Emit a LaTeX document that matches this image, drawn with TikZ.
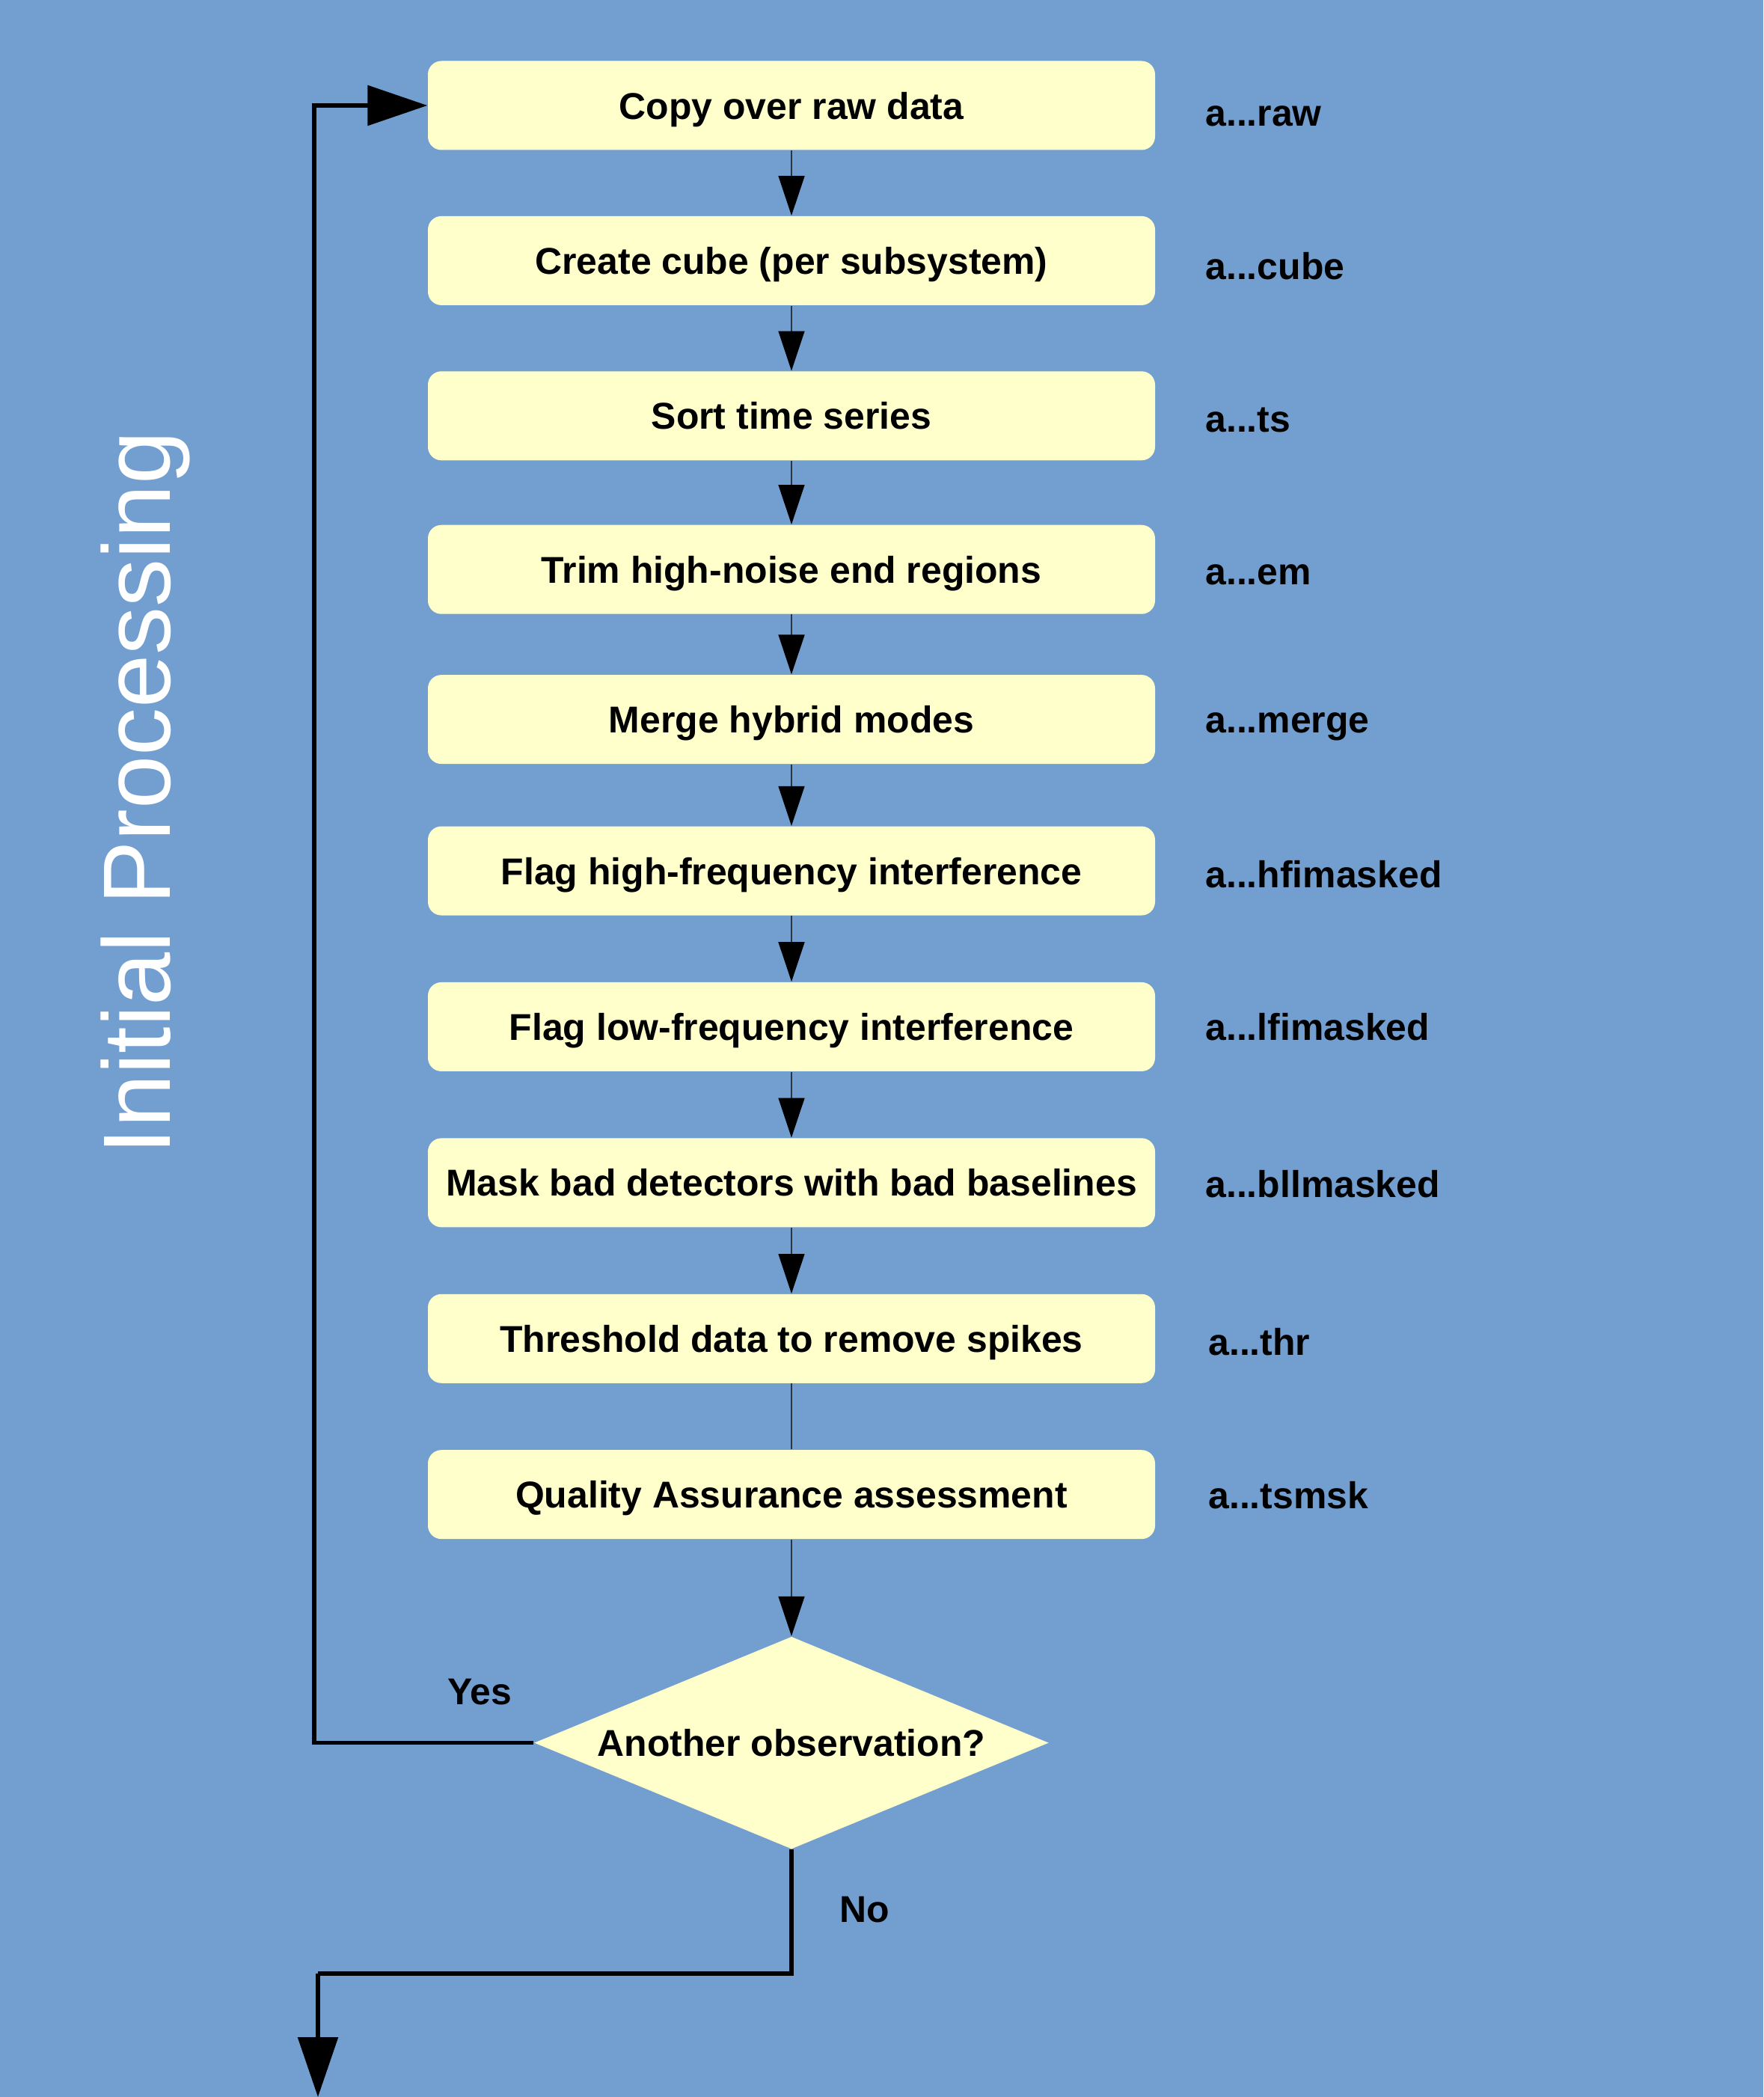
\documentclass[tikz,border=0pt]{standalone}
\usepackage{fontspec}
\setmainfont{Liberation Sans}
\usepackage{xcolor}
\usepackage{tikz}
\usetikzlibrary{positioning,arrows.meta,calc,shapes.geometric}
\definecolor{PIback}{HTML}{729FCF}
\definecolor{PIpale}{HTML}{FFFFCC}
\definecolor{PIline}{HTML}{2B3440}
\newcommand\stepfont{\fontsize{14.2}{17}\selectfont\bfseries}
\newcommand\titlefont{\fontsize{36.4}{40}\selectfont}
\tikzset{
  stepbox/.style={rounded corners=0.18cm, fill=PIpale, minimum width=9.72cm, minimum height=1.19cm, inner sep=0pt, font=\stepfont, text=black, text height=0.4cm, text depth=0.04cm},
  testbox/.style={diamond, fill=PIpale, minimum width=6.88cm, minimum height=2.84cm, aspect=2.42, inner sep=0pt, font=\stepfont, text=black},
  tagtext/.style={font=\stepfont, text=black, anchor=base west, inner sep=0pt},
  flowlabel/.style={font=\stepfont, text=black, inner sep=0pt},
  thinarr/.style={-{Triangle[length=5.3mm, width=3.5mm, color=black]}, line width=0.4pt, draw=PIline},
  thinline/.style={line width=0.4pt, draw=PIline},
  looparr/.style={-{Triangle[length=8mm, width=5.3mm]}, line width=1.6pt, draw=black},
  loopline/.style={line width=1.6pt, draw=black}
}

\begin{document}
\begin{tikzpicture}[node distance=0.88cm]
\fill[PIback] (0,0) rectangle (23.57,-28.03);
\useasboundingbox (0,0) rectangle (23.57,-28.03);

% title
\node[rotate=90, anchor=base, font=\titlefont, text=white] (title) at (2.27,-10.60) {Initial Processing};

% processing steps
\node[stepbox] (raw) at (10.58,-1.41) {Copy over raw data};
\node[stepbox, below=0.87cm of raw] (cube) {Create cube (per subsystem)};
\node[stepbox, below=0.87cm of cube] (ts) {Sort time series};
\node[stepbox, below=0.85cm of ts] (em) {Trim high-noise end regions};
\node[stepbox, below=0.80cm of em] (merge) {Merge hybrid modes};
\node[stepbox, below=0.82cm of merge] (hfi) {Flag high-frequency interference};
\node[stepbox, below=of hfi] (lfi) {Flag low-frequency interference};
\node[stepbox, below=of lfi] (bll) {Mask bad detectors with bad baselines};
\node[stepbox, below=of bll] (thr) {Threshold data to remove spikes};
\node[stepbox, below=of thr] (qa) {Quality Assurance assessment};
\node[testbox, below=1.29cm of qa] (obs) {Another observation?};

% product names
\node[tagtext] (rawtag) at ([xshift=0.66cm, yshift=-0.27cm]raw.east) {a...raw};
\node[tagtext] (cubetag) at ([xshift=0.66cm, yshift=-0.25cm]cube.east) {a...cube};
\node[tagtext] (tstag) at ([xshift=0.66cm, yshift=-0.22cm]ts.east) {a...ts};
\node[tagtext] (emtag) at ([xshift=0.66cm, yshift=-0.20cm]em.east) {a...em};
\node[tagtext] (mergetag) at ([xshift=0.66cm, yshift=-0.18cm]merge.east) {a...merge};
\node[tagtext] (hfitag) at ([xshift=0.66cm, yshift=-0.22cm]hfi.east) {a...hfimasked};
\node[tagtext] (lfitag) at ([xshift=0.66cm, yshift=-0.18cm]lfi.east) {a...lfimasked};
\node[tagtext] (blltag) at ([xshift=0.66cm, yshift=-0.20cm]bll.east) {a...bllmasked};
\node[tagtext] (thrtag) at ([xshift=0.70cm, yshift=-0.22cm]thr.east) {a...thr};
\node[tagtext] (qatag) at ([xshift=0.70cm, yshift=-0.19cm]qa.east) {a...tsmsk};

\draw[thinarr] (raw) -- (cube);
\draw[thinarr] (cube) -- (ts);
\draw[thinarr] (ts) -- (em);
\draw[thinarr] (em) -- (merge);
\draw[thinarr] (merge) -- (hfi);
\draw[thinarr] (hfi) -- (lfi);
\draw[thinarr] (lfi) -- (bll);
\draw[thinarr] (bll) -- (thr);
\draw[thinline] (thr) -- (qa);
\draw[thinarr] (qa) -- (obs);

% yes: back to the top
\coordinate (back) at (4.20,0);
\draw[looparr] (obs.west) -- (obs.west -| back) |- (raw.west);
\node[flowlabel] (yes) at ([xshift=-0.72cm, yshift=0.68cm]obs.west) {Yes};

% no: on to the next stage
\coordinate (turn) at (4.25,-26.38);
\coordinate (exit) at (4.25,-28.03);
\draw[loopline] (obs.south) |- (turn);
\draw[looparr] (turn) -- (exit);
\node[flowlabel] (no) at ([xshift=0.98cm, yshift=-0.80cm]obs.south) {No};
\end{tikzpicture}
\end{document}
